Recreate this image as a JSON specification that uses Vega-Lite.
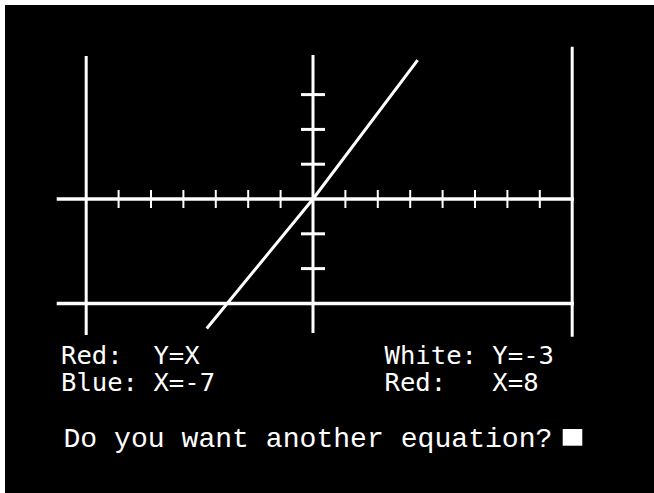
{
  "$schema": "https://vega.github.io/schema/vega-lite/v6.json",
  "width": 649,
  "height": 488,
  "autosize": {"type": "none"},
  "padding": {"left": 5, "top": 5, "right": 0, "bottom": 0},
  "background": "white",
  "config": {"view": {"fill": "black", "stroke": null}},
  "datasets": {
    "lines": [
      {"label": "Y axis", "x": 0, "x2": 0, "y": 4.138, "y2": -3.851, "dir": "v"},
      {"label": "Blue: X=-7", "x": -7, "x2": -7, "y": 4.109, "y2": -3.908, "dir": "v"},
      {"label": "Red: X=8", "x": 8, "x2": 8, "y": 4.376, "y2": -3.957, "dir": "v"},
      {"label": "X axis", "x": -7.91, "x2": 8.05, "y": 0, "y2": 0, "dir": "h"},
      {"label": "White: Y=-3", "x": -7.91, "x2": 8.05, "y": -3, "y2": -3, "dir": "h"}
    ],
    "yx": [
      {"x": -3.28, "y": -3.72},
      {"x": 0, "y": 0},
      {"x": 3.23, "y": 3.99}
    ],
    "xticks": [
      {"x": -6, "y": 0}, {"x": -5, "y": 0}, {"x": -4, "y": 0}, {"x": -3, "y": 0}, {"x": -2, "y": 0}, {"x": -1, "y": 0},
      {"x": 1, "y": 0}, {"x": 2, "y": 0}, {"x": 3, "y": 0}, {"x": 4, "y": 0}, {"x": 5, "y": 0}, {"x": 6, "y": 0}, {"x": 7, "y": 0}
    ],
    "yticks": [
      {"x": 0, "y": 3}, {"x": 0, "y": 2}, {"x": 0, "y": 1}, {"x": 0, "y": -1}, {"x": 0, "y": -2}
    ],
    "labels": [
      {"text": "Red:\u00a0\u00a0Y=X", "x": -7.778, "y": -4.74},
      {"text": "Blue:\u00a0X=-7", "x": -7.778, "y": -5.503},
      {"text": "White:\u00a0Y=-3", "x": 2.207, "y": -4.74},
      {"text": "Red:\u00a0\u00a0\u00a0X=8", "x": 2.207, "y": -5.503}
    ],
    "prompt": [
      {"text": "Do you want another equation?", "x": -7.70, "y": -7.112}
    ],
    "cursor": [
      {"x": 7.707, "x2": 8.312, "y": -6.609, "y2": -7.089}
    ]
  },
  "encoding": {
    "x": {"field": "x", "type": "quantitative", "scale": {"domain": [-9.506, 10.525], "nice": false, "zero": false}, "axis": null},
    "y": {"field": "y", "type": "quantitative", "scale": {"domain": [-8.448, 5.575], "nice": false, "zero": false}, "axis": null}
  },
  "layer": [
    {
      "data": {"name": "lines"},
      "transform": [{"filter": "datum.dir == 'v'"}],
      "mark": {"type": "rule", "color": "white", "strokeWidth": 3},
      "encoding": {"x2": {"field": "x2"}, "y2": {"field": "y2"}}
    },
    {
      "data": {"name": "lines"},
      "transform": [{"filter": "datum.dir == 'h'"}],
      "mark": {"type": "rule", "color": "white", "strokeWidth": 3.5},
      "encoding": {"x2": {"field": "x2"}, "y2": {"field": "y2"}}
    },
    {
      "data": {"name": "xticks"},
      "mark": {"type": "tick", "orient": "vertical", "color": "white", "opacity": 1, "size": 18, "thickness": 2},
      "encoding": {}
    },
    {
      "data": {"name": "yticks"},
      "mark": {"type": "tick", "orient": "horizontal", "color": "white", "opacity": 1, "size": 24, "thickness": 3},
      "encoding": {}
    },
    {
      "data": {"name": "yx"},
      "mark": {"type": "line", "color": "white", "strokeWidth": 3},
      "encoding": {}
    },
    {
      "data": {"name": "labels"},
      "mark": {"type": "text", "align": "left", "baseline": "alphabetic", "color": "white", "font": "DejaVu Sans Mono", "fontSize": 25.6},
      "encoding": {"text": {"field": "text"}}
    },
    {
      "data": {"name": "prompt"},
      "mark": {"type": "text", "align": "left", "baseline": "alphabetic", "color": "white", "font": "Liberation Mono", "fontSize": 28.1},
      "encoding": {"text": {"field": "text"}}
    },
    {
      "data": {"name": "cursor"},
      "mark": {"type": "rect", "color": "white"},
      "encoding": {"x2": {"field": "x2"}, "y2": {"field": "y2"}}
    }
  ]
}
